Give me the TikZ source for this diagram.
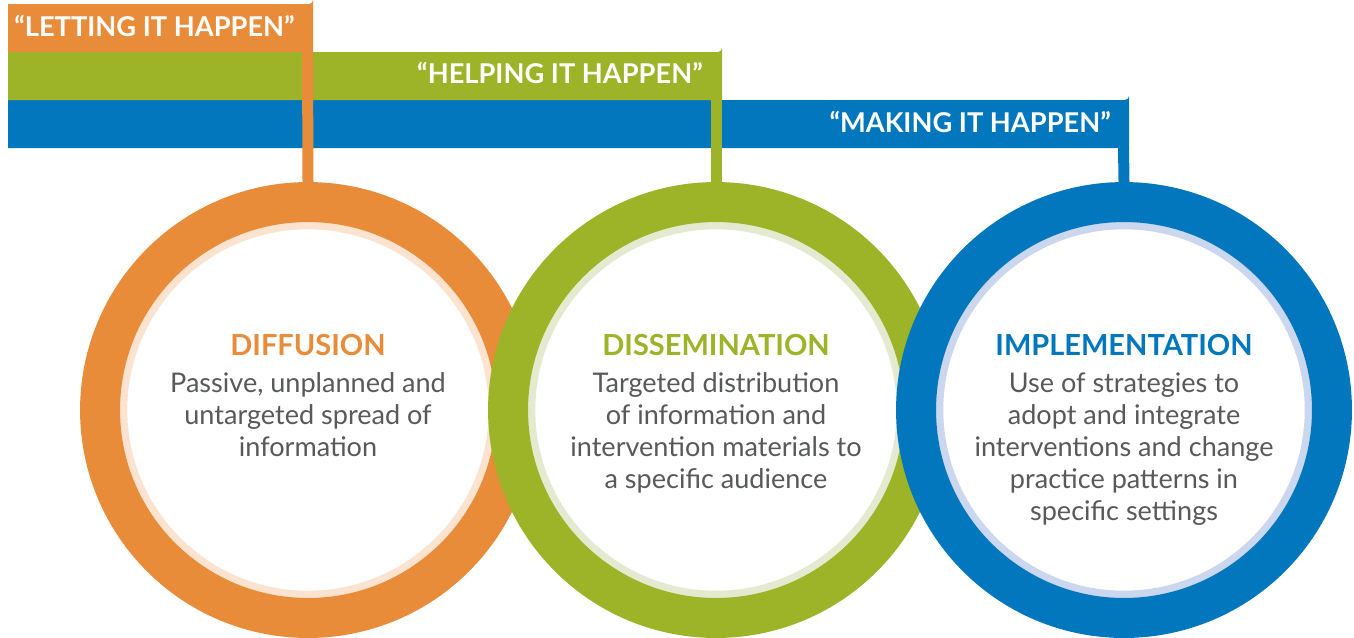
\documentclass[tikz,border=0pt]{standalone}
\usepackage{fontspec}
\setmainfont{Lato}
\usetikzlibrary{positioning}

\definecolor{lorange}{HTML}{E98C3A}
\definecolor{lpeach}{HTML}{FBE3D0}
\definecolor{lgreen}{HTML}{9DB328}
\definecolor{lsage}{HTML}{E3EAD0}
\definecolor{lblue}{HTML}{0277BD}
\definecolor{lsky}{HTML}{CAD7EF}
\definecolor{txtgray}{HTML}{58595B}

\tikzset{
  ring/.style 2 args={circle, inner sep=0pt, minimum size=8.32cm, draw=#1, line width=0.8cm, fill=white,
    path picture={\draw[#2, line width=0.15cm] (path picture bounding box.center) circle[radius=3.69cm];}},
  stem/.style={line width=0.22cm, draw=#1},
  bandtxt/.style={text=white, inner sep=0pt, font=\fontsize{15.5}{16}\selectfont\bfseries},
  ttl/.style={text=#1, inner sep=0pt, font=\fontsize{16.5}{18}\selectfont\bfseries},
  txt/.style={text=txtgray, inner sep=0pt, align=center, font=\fontsize{15.4}{18.2}\selectfont}
}

\begin{document}
\begin{tikzpicture}[x=0.02cm, y=-0.02cm]
\useasboundingbox (0,0) rectangle (1354,637);

% the three circles
\node[ring={lorange}{lpeach}] (diff) at (308,410) {};
\node[ring={lgreen}{lsage}] (diss) at (716,410) {};
\node[ring={lblue}{lsky}] (impl) at (1124,410) {};

\node[ttl=lorange] (diffT) at ([yshift=1.3cm]diff.center) {DIFFUSION};
\node[txt, below=0.34cm of diffT.base] (diffB) {Passive, unplanned and\\untargeted spread of\\information};

\node[ttl=lgreen] (dissT) at ([yshift=1.3cm]diss.center) {DISSEMINATION};
\node[txt, below=0.34cm of dissT.base] (dissB) {Targeted distribution\\of information and\\intervention materials to\\a specific audience};

\node[ttl=lblue] (implT) at ([yshift=1.3cm]impl.center) {IMPLEMENTATION};
\node[txt, below=0.34cm of implT.base] (implB) {Use of strategies to\\adopt and integrate\\interventions and change\\practice patterns in\\specific settings};

% bands, back to front
\fill[lblue] (8,100) -- (1125,100) arc[start angle=90, end angle=0, radius=4] -- (1129,148) -- (8,148) -- cycle;
\coordinate (implS) at (1123.5,147);
\draw[stem=lblue] (implS) -- (impl.north);
\node[bandtxt, anchor=base east] (implL) at (1111,132) {``MAKING IT HAPPEN''};

\fill[lgreen] (8,52) -- (718,52) arc[start angle=90, end angle=0, radius=4] -- (722,100) -- (8,100) -- cycle;
\coordinate (dissS) at (716,99);
\draw[stem=lgreen] (dissS) -- (diss.north);
\node[bandtxt, anchor=base east] (dissL) at (703,83) {``HELPING IT HAPPEN''};

\fill[lorange] (8,4) -- (309,4) arc[start angle=90, end angle=0, radius=4] -- (313,52) -- (8,52) -- cycle;
\coordinate (diffS) at (307.5,51);
\draw[stem=lorange] (diffS) -- (diff.north);
\node[bandtxt, anchor=base west] (diffL) at (14,36) {``LETTING IT HAPPEN''};
\end{tikzpicture}
\end{document}
